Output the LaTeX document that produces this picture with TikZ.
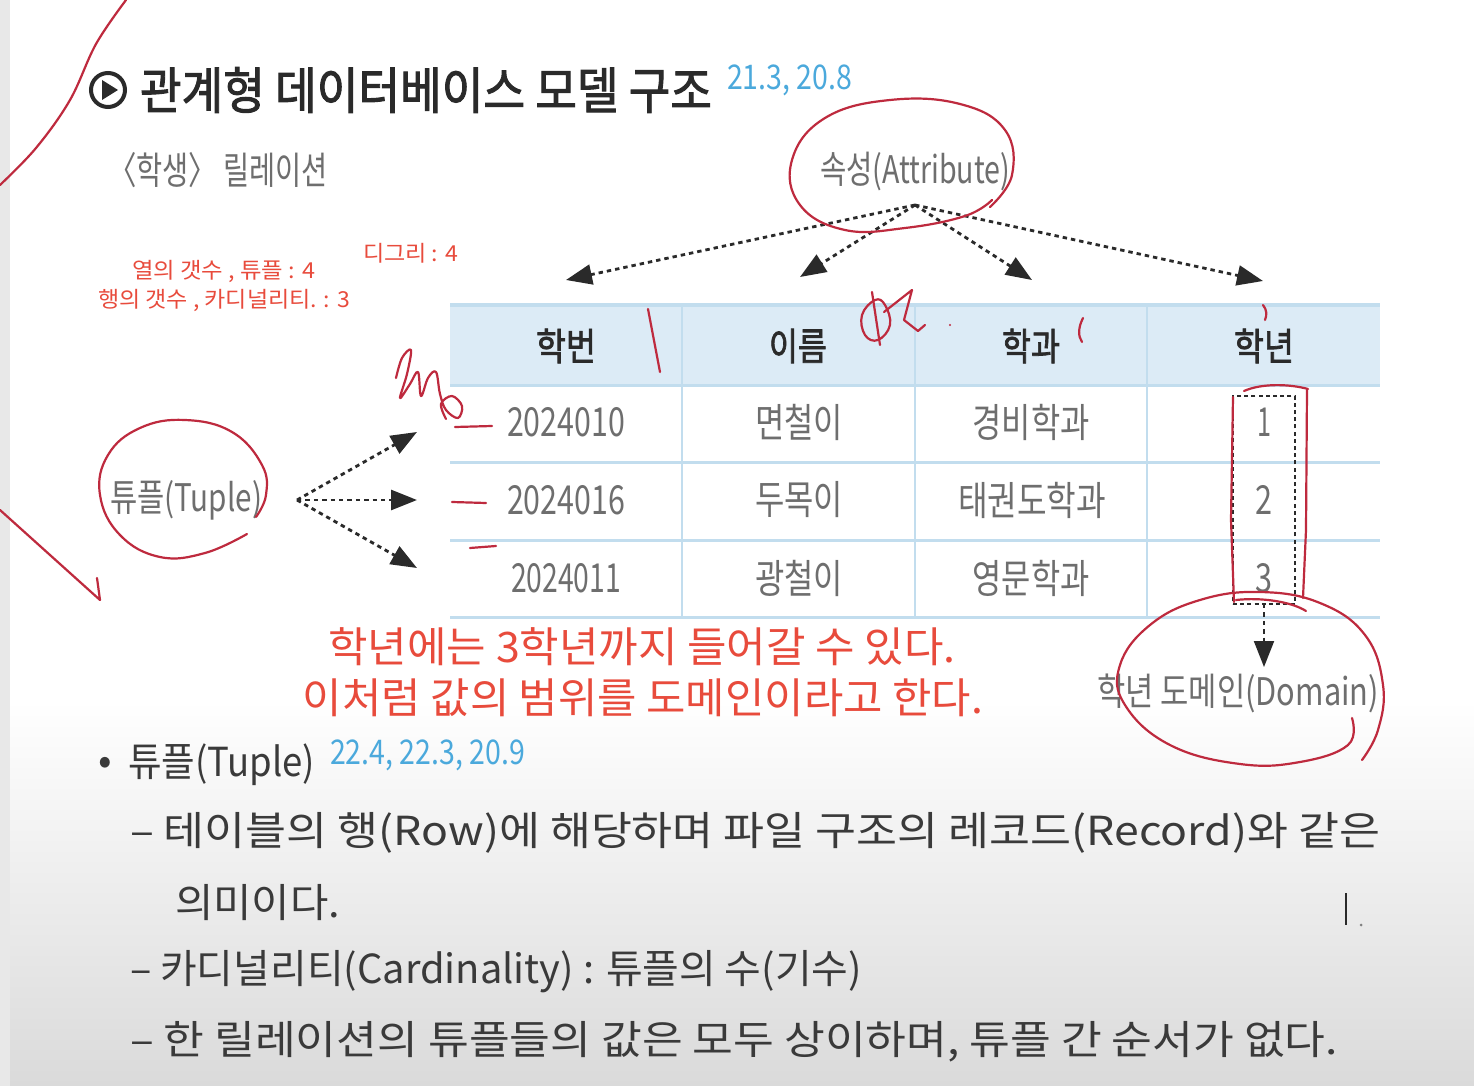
\documentclass[tikz,border=0pt]{standalone}
\usepackage{fontspec}
\usepackage{graphicx}
\setmainfont{Noto Sans CJK KR}
\newfontfamily\krbold[FakeBold=2]{Noto Sans CJK KR}
\usetikzlibrary{arrows.meta}
\definecolor{txtgray}{HTML}{6E6E6E}
\definecolor{dark}{HTML}{2A2A2A}
\definecolor{bodytxt}{HTML}{3A3A3A}
\definecolor{refblue}{HTML}{4BA9DC}
\definecolor{typred}{HTML}{E84B3C}
\definecolor{handred}{HTML}{BE2A3E}
\definecolor{hdrfill}{HTML}{DCEBF6}
\definecolor{tline}{HTML}{C2DDEE}
\definecolor{bottomgray}{HTML}{DADADA}
\newcommand\myfs[1]{\fontsize{#1}{#1}\selectfont}
\newcommand\fitwd[2]{\resizebox{#1pt}{\height}{#2}}
\begin{document}
\begin{tikzpicture}[x=0.5pt,y=-0.5pt,
  every node/.style={inner sep=0pt, outer sep=0pt},
  gtxt/.style={text=txtgray, font=\myfs{19}},
  cell/.style={text=txtgray, font=\myfs{20}},
  hdr/.style={text=dark, font=\krbold\myfs{19}},
  redsmall/.style={text=typred, font=\myfs{11}},
  redbig/.style={text=typred, font=\myfs{21}},
  body/.style={text=bodytxt, font=\myfs{20}, anchor=west},
  refs/.style={text=refblue, font=\myfs{17}, anchor=west},
  hand/.style={draw=handred, line width=1.1pt, line cap=round, line join=round},
  dotarrow/.style={draw=dark, line width=1.4pt, dash pattern=on 2.2pt off 2pt, -{Triangle[length=13pt,width=10pt]}},
  tabline/.style={draw=tline, line width=1.5pt}]
% background
\useasboundingbox (0,0) rectangle (1474,1086);
\fill[white] (0,0) rectangle (1474,1086);
\shade[top color=white, bottom color=bottomgray] (0,700) rectangle (1474,1086);
\fill[black!9] (0,0) rectangle (10,1086);

% title
\node[draw=dark, circle, line width=2pt, minimum size=17pt] (icon) at (108,90) {};
\fill[dark] (102,80) -- (102,100) -- (118,90) -- cycle;
\node[anchor=west, text=dark, font=\krbold\myfs{25}] (title) at (140,90) {\fitwd{286}{관계형 데이터베이스 모델 구조}};
\node[refs] (ref1) at (727,80) {\fitwd{62.5}{21.3, 20.8}};

% relation name
\node[gtxt, anchor=west] (relname) at (108,170) {\fitwd{110}{〈학생〉 릴레이션}};

% red typed notes
\node[redsmall, anchor=west] (degree) at (363,253) {\fitwd{47.5}{디그리 : 4}};
\node[redsmall, anchor=west] (note1) at (132,271) {\fitwd{91.5}{열의 갯수 , 튜플 : 4}};
\node[redsmall, anchor=west] (note2) at (98,300) {\fitwd{126}{행의 갯수 , 카디널리티. : 3}};

% attribute
\node[gtxt] (attr) at (915,172) {\fitwd{95}{속성(Attribute)}};
\coordinate (asrc) at (915,205);
\coordinate (t1) at (566,280);
\coordinate (t2) at (800,277);
\coordinate (t3) at (1032,280);
\coordinate (t4) at (1263,281);
\draw[dotarrow] (asrc) -- (t1);
\draw[dotarrow] (asrc) -- (t2);
\draw[dotarrow] (asrc) -- (t3);
\draw[dotarrow] (asrc) -- (t4);

% table
\fill[hdrfill] (450,305) rectangle (1380,385);
\draw[tabline, line width=2pt] (450,305) -- (1380,305);
\foreach \yy in {385,462,540,617} \draw[tabline] (450,\yy) -- (1380,\yy);
\foreach \xx in {682,915,1147} \draw[draw=tline, line width=1.2pt] (\xx,305) -- (\xx,617);
\node[hdr] (h1) at (566,346) {\fitwd{30}{학번}};
\node[hdr] (h2) at (798,346) {\fitwd{29}{이름}};
\node[hdr] (h3) at (1031,346) {\fitwd{29}{학과}};
\node[hdr] (h4) at (1264,346) {\fitwd{30}{학년}};
\node[cell] (c11) at (566,422) {\fitwd{59}{2024010}};
\node[cell] (c12) at (799,422) {\fitwd{44}{면철이}};
\node[cell] (c13) at (1031,422) {\fitwd{58.5}{경비학과}};
\node[cell] (c14) at (1264,422) {\fitwd{7}{1}};
\node[cell] (c21) at (566,500) {\fitwd{59}{2024016}};
\node[cell] (c22) at (799,500) {\fitwd{44}{두목이}};
\node[cell] (c23) at (1032,500) {\fitwd{74}{태권도학과}};
\node[cell] (c24) at (1264,500) {\fitwd{8.5}{2}};
\node[cell] (c31) at (566,578) {\fitwd{55}{2024011}};
\node[cell] (c32) at (799,578) {\fitwd{44}{광철이}};
\node[cell] (c33) at (1031,578) {\fitwd{58.5}{영문학과}};
\node[cell] (c34) at (1264,578) {\fitwd{8.5}{3}};

% domain
\node[draw=dark, line width=0.8pt, dash pattern=on 2pt off 1.6pt, minimum width=31pt, minimum height=104pt] (dombox) at (1264,500) {};
\node[gtxt] (domain) at (1238,693) {\fitwd{141}{학년 도메인(Domain)}};
\coordinate (dtip) at (1264,667);
\draw[dotarrow, line width=1pt] (dombox.south) -- (dtip);

% tuple
\node[gtxt] (tuple) at (186,500) {\fitwd{76}{튜플(Tuple)}};
\coordinate (tsrc) at (297,500);
\coordinate (u1) at (417,432);
\coordinate (u2) at (417,500);
\coordinate (u3) at (417,568);
\draw[dotarrow] (tsrc) -- (u1);
\draw[dotarrow] (tsrc) -- (u2);
\draw[dotarrow] (tsrc) -- (u3);

% red big typed text
\node[redbig] (big1) at (642,647) {\fitwd{313.5}{학년에는 3학년까지 들어갈 수 있다.}};
\node[redbig] (big2) at (643,698) {\fitwd{340}{이처럼 값의 범위를 도메인이라고 한다.}};

% bottom text
\node[text=bodytxt, font=\myfs{20}] (bullet) at (105,766) {•};
\node[body] (tupleh) at (128,765) {\fitwd{93.5}{튜플(Tuple)}};
\node[refs] (ref2) at (330,755) {\fitwd{97.5}{22.4, 22.3, 20.9}};
\node[body] (line1) at (130,833) {\fitwd{625}{– 테이블의 행(Row)에 해당하며 파일 구조의 레코드(Record)와 같은}};
\node[body] (line2) at (175,903) {\fitwd{82.5}{의미이다.}};
\node[body] (line3) at (130,972) {\fitwd{366}{– 카디널리티(Cardinality) : 튜플의 수(기수)}};
\node[body] (line4) at (130,1042) {\fitwd{604}{– 한 릴레이션의 튜플들의 값은 모두 상이하며, 튜플 간 순서가 없다.}};

% cursor
\draw[dark, line width=0.8pt] (1346,893) -- (1346,925);
\fill[black!50] (1361,925) circle (1.5);

% hand-drawn annotations
\draw[hand] plot[smooth, tension=0.7] coordinates {(990,207) (1012,175) (1005,130) (960,104) (890,100) (825,118) (792,160) (800,205) (845,230) (905,228) (965,216) (992,200)};
\draw[hand] plot[smooth, tension=0.7] coordinates {(247,534) (205,553) (160,557) (120,535) (100,495) (108,455) (140,428) (185,420) (232,432) (262,465) (266,495) (256,517)};
\draw[hand] plot[smooth, tension=0.7] coordinates {(1352,718) (1348,745) (1300,762) (1240,764) (1170,745) (1125,705) (1120,665) (1150,625) (1200,600) (1260,592) (1320,603) (1365,635) (1383,685) (1378,730) (1362,760)};
\draw[hand] (1244,391) .. controls (1262,383) and (1290,384) .. (1308,389);
\draw[hand] (1233,397) -- (1231,520) -- (1234,602);
\draw[hand] (1307,390) -- (1306,530) -- (1303,598);
\draw[hand] (1236,600) .. controls (1262,597) and (1292,602) .. (1306,611);
\draw[hand] plot[smooth, tension=0.6] coordinates {(126,0) (96,44) (70,100) (36,148) (0,185)};
\draw[hand] (0,510) -- (100,600) -- (97,578);
\draw[hand] (648,309) -- (660,372);
\draw[hand] (1083,318) .. controls (1078,328) and (1078,336) .. (1082,342);
\draw[hand] (1263,305) .. controls (1267,310) and (1267,315) .. (1265,320);
\draw[hand] (455,427) -- (492,426);
\draw[hand] (452,502) -- (486,503);
\draw[hand] (470,548) -- (496,546);
\draw[hand] plot[smooth, tension=0.6] coordinates {(396,378) (402,358) (411,350) (407,374) (400,398) (410,384) (418,372) (421,396) (428,378) (436,372) (440,394) (446,410) (458,418) (462,406) (452,396) (441,404) (446,419)};
\draw[hand] plot[smooth cycle, tension=0.7] coordinates {(875,300) (862,315) (865,335) (878,340) (890,325) (885,305)};
\draw[hand] (872,292) -- (880,345);
\draw[hand] (884,312) -- (912,290) -- (904,320) -- (918,331) -- (925,325);
\fill[handred] (950,325) circle (1.2);
\end{tikzpicture}
\end{document}
